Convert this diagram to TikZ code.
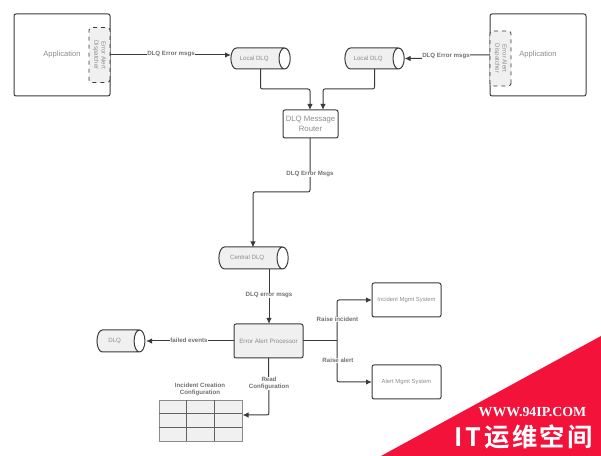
\documentclass[tikz,border=0pt]{standalone}
\usepackage{fontspec}
\setmainfont{Liberation Sans}
\newfontfamily\cjkwm{Noto Sans CJK SC}[BoldFont={Noto Sans CJK SC Bold},LetterSpace=10]
\newfontfamily\serifwm{Liberation Serif}
\usetikzlibrary{shapes.geometric,arrows.meta}
\definecolor{txt}{HTML}{8C8C8C}
\definecolor{lbl}{HTML}{707070}
\definecolor{boxfill}{HTML}{F0F0F0}
\definecolor{edge}{HTML}{3A3A3A}
\definecolor{wmred}{HTML}{F2123A}
\tikzset{
  box/.style={draw=edge,line width=0.75pt,outer sep=0pt,rounded corners=1.5pt,inner sep=0pt,align=center,text=txt,anchor=north west},
  appbox/.style={box,minimum width=72pt,minimum height=61.5pt,font=\fontsize{5.7}{7}\selectfont},
  sysbox/.style={box,minimum width=51.75pt,minimum height=25.5pt,font=\fontsize{4.4}{5.5}\selectfont},
  dispatch/.style={draw=edge,dashed,line width=0.6pt,outer sep=0pt,fill=boxfill,rounded corners=2pt,inner sep=0pt,align=center,text=txt,
     minimum width=41.25pt,minimum height=15.75pt,font=\fontsize{4.6}{5.4}\selectfont},
  tank/.style={draw=edge,line width=0.75pt,outer sep=0pt,cylinder,shape border rotate=0,aspect=2,cylinder uses custom fill,
     cylinder body fill=boxfill,cylinder end fill=white,inner sep=0pt,text=txt,font=\fontsize{4.6}{5.5}\selectfont,minimum height=#1},
  conn/.style={draw=edge,line width=0.75pt,rounded corners=1.5pt,-{Latex[length=4.5pt,width=4pt]}},
  plain/.style={draw=edge,line width=0.75pt,rounded corners=1.5pt},
  lab/.style={fill=white,inner sep=0pt,text=lbl,align=center,font=\bfseries\fontsize{4.6}{5.7}\selectfont},
}
\begin{document}
\begin{tikzpicture}[x=0.75pt,y=-0.75pt]
\useasboundingbox (0,0) rectangle (601,456);
% applications
\node[appbox] (appL) at (14,14) {Application};
\node[appbox] (appR) at (490,14) {Application};
\node[dispatch,rotate=-90] (dispL) at (99.5,55) {Error Alert\\Dispatcher};
\node[dispatch,rotate=-90] (dispR) at (500.5,58.5) {Error Alert\\Dispatcher};
% queues
\node[tank=44.5pt,minimum width=15.75pt] (qL) at (257.5,58.5) {\hspace*{-5pt}Local DLQ};
\node[tank=44.5pt,minimum width=15.75pt] (qR) at (371.5,58.5) {\hspace*{-5pt}Local DLQ};
\node[tank=52pt,minimum width=16.5pt] (qC) at (250.5,258) {\hspace*{-5pt}Central DLQ};
\node[tank=36pt,minimum width=16.5pt] (qD) at (118,341) {\hspace*{-5pt}DLQ};
% router and processor
\node[box,minimum width=41.25pt,minimum height=21pt,font=\fontsize{5.8}{8}\selectfont] (router) at (283,110) {DLQ Message\\Router};
\node[box,fill=boxfill,minimum width=51.75pt,minimum height=25.5pt,font=\fontsize{4.7}{6}\selectfont] (proc) at (234,324) {Error Alert Processor};
\node[sysbox] (inc) at (372,283) {Incident Mgmt System};
\node[sysbox] (alert) at (372,365) {Alert Mgmt System};
% table
\node[draw=none,minimum width=62.25pt,minimum height=30.75pt,inner sep=0pt,outer sep=0pt,anchor=north west,fill=boxfill] (tbl) at (159,400) {};
\draw[draw=txt,line width=0.5pt] (tbl.north west) rectangle (tbl.south east);
\draw[draw=edge!80,line width=0.4pt] (186.5,400) -- (186.5,441) (214,400) -- (214,441) (159,413.5) -- (242,413.5) (159,427) -- (242,427);
\node[lab,fill=none] (tblt) at (200,389.5) {Incident Creation\\Configuration};
% connectors
\coordinate (e1) at (231,55);
\draw[conn] (110,55) -- (e1);
\node[lab] (l1) at (171,54) {DLQ Error msgs};
\coordinate (e2) at (310,110);
\coordinate (e3) at (323,110);
\draw[conn] ([xshift=2.25pt]qL.south) |- (310,89) -- (e2);
\draw[conn] ([xshift=2.25pt]qR.south) |- (323,89) -- (e3);
\coordinate (e4) at (404.5,58.5);
\draw[conn] (490,55) -- (437,55) -- (437,58.5) -- (e4);
\node[lab] (l2) at (446,56) {DLQ Error msgs};
\coordinate (e5) at (253,247.5);
\draw[conn] (310,138) -- (310,192) -- (253,192) -- (e5);
\node[lab] (l3) at (310,174.5) {DLQ Error Msgs};
\draw[conn] (269,269) -- (269,324);
\node[lab] (l4) at (269,295.5) {DLQ error msgs};
\coordinate (e6) at (146,341);
\draw[conn] (proc.west) -- (e6);
\node[lab] (l5) at (189,340) {failed events};
\coordinate (j) at (337,341);
\draw[plain] (proc.east) -- (j);
\draw[conn] (j) -- (337,300) -- (372,300);
\draw[conn] (j) -- (337,382) -- (372,382);
\node[lab] (l6) at (337.5,319.5) {Raise incident};
\node[lab] (l7) at (338,360.5) {Raise alert};
\coordinate (e7) at (242.5,415);
\draw[conn] (proc.south) -- (269,415) -- (e7);
\node[lab] (l8) at (269,383.5) {Read\\Configuration};
% watermark
\fill[wmred] (381,456) -- (601,336) -- (601,456) -- cycle;
\node[text=white,inner sep=0pt,font=\serifwm\bfseries\fontsize{10.4}{11}\selectfont] (wm1) at (532.5,412) {WWW.94IP.COM};
\node[text=white,inner sep=0pt,font=\cjkwm\bfseries\fontsize{19}{20}\selectfont] (wm2) at (524,437) {IT运维空间};
\end{tikzpicture}
\end{document}
